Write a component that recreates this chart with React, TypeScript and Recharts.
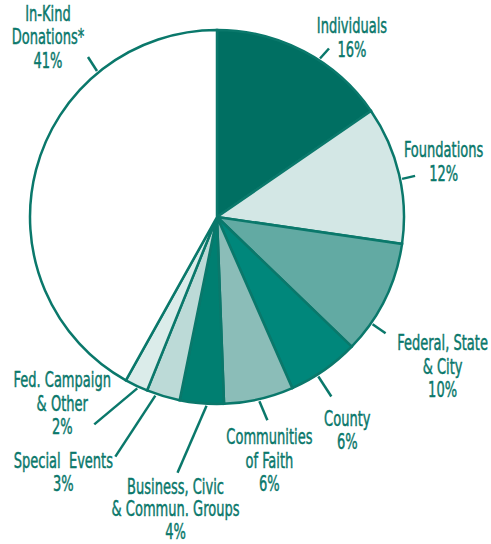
import React from "react";
import { PieChart, Pie, Cell } from "recharts";

// Funding sources (share of total, %)
const categories = [
  "Individuals",
  "Foundations",
  "Federal, State & City",
  "County",
  "Communities of Faith",
  "Business, Civic & Commun. Groups",
  "Special Events",
  "Fed. Campaign & Other",
  "In-Kind Donations*",
];
const values = [15.4, 11.9, 9.9, 6.2, 6.0, 3.8, 2.9, 2.0, 41.9];
// Printed percentage labels
const percentLabels = ["16%", "12%", "10%", "6%", "6%", "4%", "3%", "2%", "41%"];
// Label text lines (category names broken as printed)
const labelLines = [
  ["Individuals"],
  ["Foundations"],
  ["Federal, State", "& City"],
  ["County"],
  ["Communities", "of Faith"],
  ["Business, Civic", "& Commun. Groups"],
  ["Special  Events"],
  ["Fed. Campaign", "& Other"],
  ["In-Kind", "Donations*"],
];

const colors = [
  "#006f62",
  "#d3e7e5",
  "#62aaa3",
  "#00877b",
  "#8bbdb8",
  "#007f71",
  "#bcdad7",
  "#dbecea",
  "#ffffff",
];

// layout of leader lines and label text (angle shift from slice middle, leader vector, text offset from leader end)
const labelLayout = [
  { shift: -5.3, lead: [9, -10], text: [23, -15.5] },
  { shift: -1.5, lead: [13, -3], text: [28.5, -18.4] },
  { shift: -8.5, lead: [13, 9], text: [57, 17] },
  { shift: -2.5, lead: [13, 20], text: [16, 29] },
  { shift: 0, lead: [8, 19], text: [2, 24] },
  { shift: 1.5, lead: [-29, 67], text: [-2, 21] },
  { shift: -2.3, lead: [-40, 61], text: [-52, 11] },
  { shift: 0.6, lead: [-43, 36], text: [-32, -37] },
  { shift: -36, lead: [-9, -14], text: [-40, -36] },
];

const data = categories.map((name, i) => ({ name, value: values[i] }));

const TEAL = "#0a786b";
const RAD = Math.PI / 180;

const renderLabel = (props: any) => {
  const { cx, cy, midAngle, outerRadius, index } = props;
  const lay = labelLayout[index];
  const ang = (midAngle + lay.shift) * RAD;
  const r = outerRadius + 2;
  const sx = cx + r * Math.cos(ang);
  const sy = cy - r * Math.sin(ang);
  const ex = sx + lay.lead[0];
  const ey = sy + lay.lead[1];
  const tx = ex + lay.text[0];
  const ty = ey + lay.text[1];
  const lines = [...labelLines[index], percentLabels[index]];
  const lh = index === 5 ? 22.5 : 23.5;
  return (
    <g key={`lab-${index}`}>
      <line x1={sx} y1={sy} x2={ex} y2={ey} stroke={TEAL} strokeWidth={2.5} />
      {lines.map((t, k) => (
        <text
          key={k}
          transform={`translate(${tx},${ty + k * lh}) scale(0.69,1)`}
          x={0}
          y={0}
          textAnchor="middle"
          fill={TEAL}
          stroke={TEAL}
          strokeWidth={0.45}
          fontSize={21}
          style={{ whiteSpace: "pre" }}
          fontFamily="'DejaVu Sans Condensed', 'DejaVu Sans', sans-serif"
        >
          {t}
        </text>
      ))}
    </g>
  );
};

export default function App() {
  return (
    <div style={{ position: "absolute", left: 0, top: 0, width: 491, height: 544, background: "#fff" }}>
      <PieChart width={491} height={544} margin={{ top: 0, right: 0, bottom: 0, left: 0 }}>
        <Pie
          data={data}
          dataKey="value"
          nameKey="name"
          cx={217}
          cy={217}
          outerRadius={187}
          startAngle={90}
          endAngle={-270}
          label={renderLabel}
          labelLine={false}
          isAnimationActive={false}
          stroke={TEAL}
          strokeWidth={2.5}
        >
          {data.map((d, i) => (
            <Cell key={d.name} fill={colors[i]} stroke={TEAL} strokeWidth={2.5} />
          ))}
        </Pie>
      </PieChart>
    </div>
  );
}
